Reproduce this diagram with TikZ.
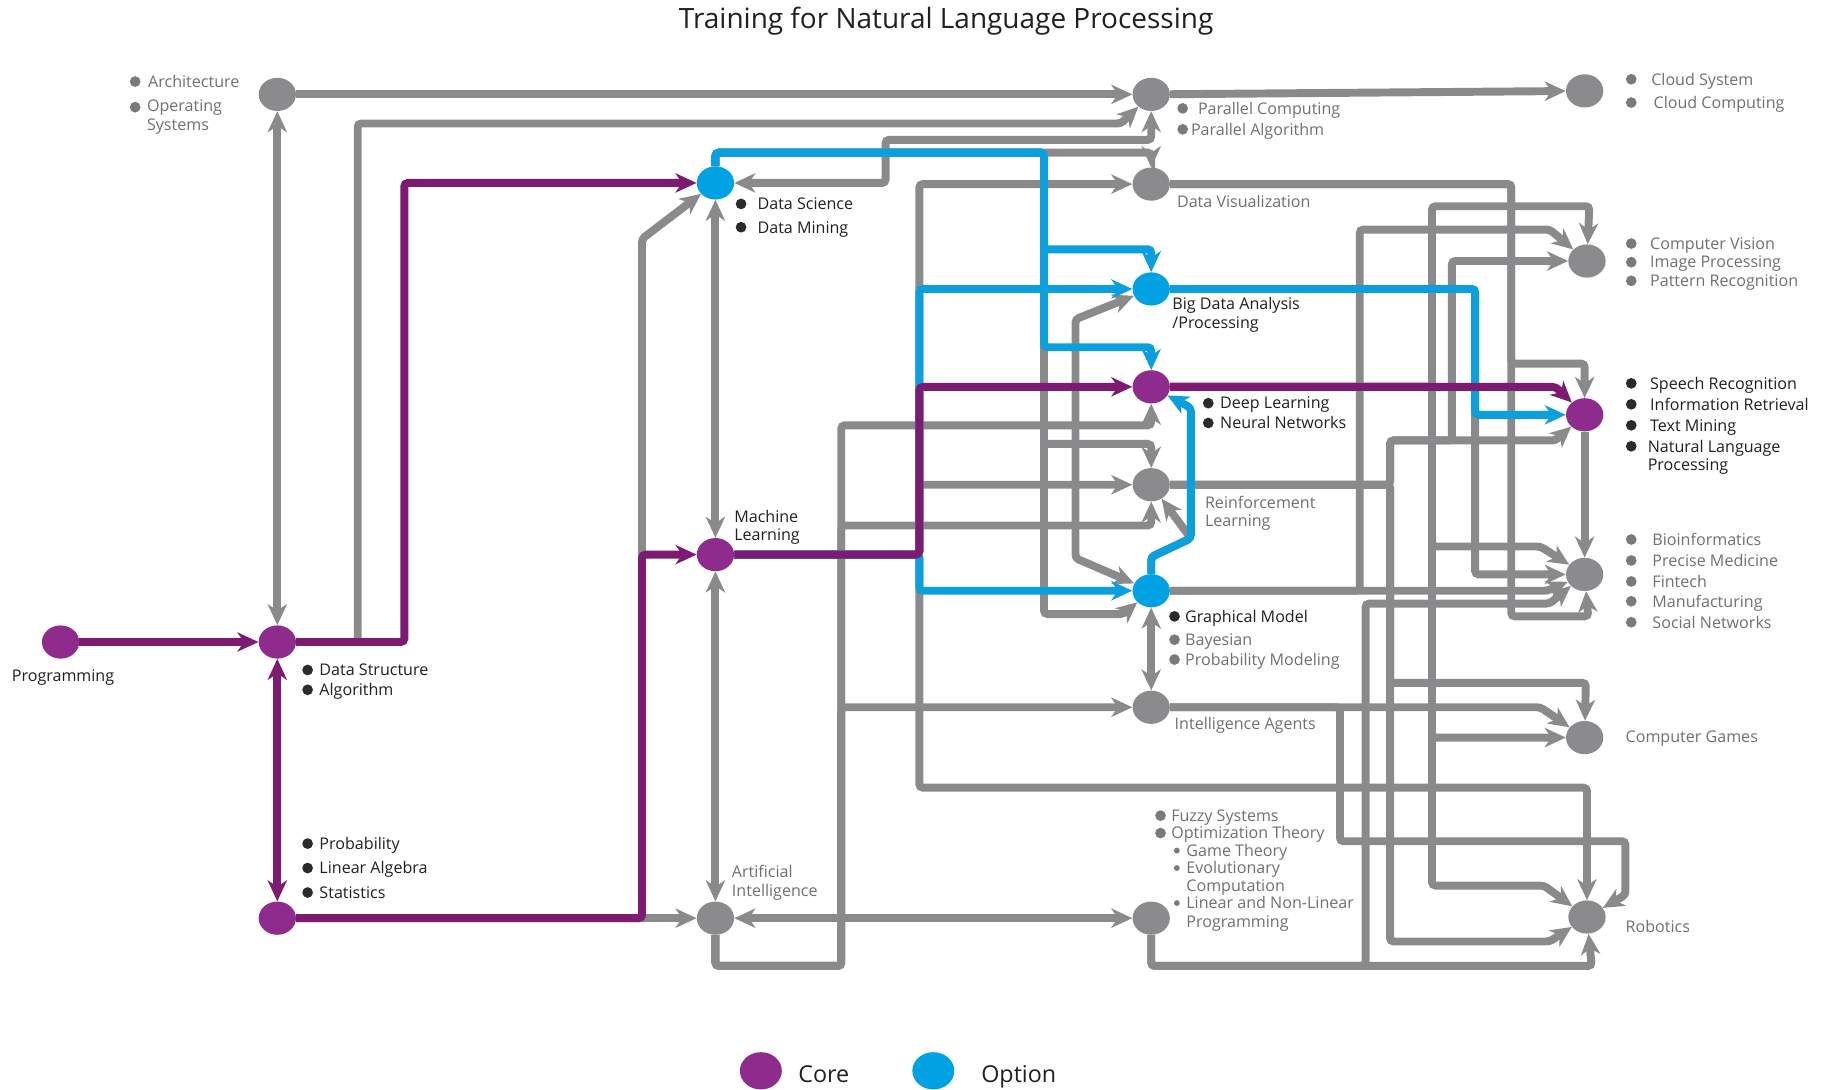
\documentclass[tikz,border=0pt]{standalone}
\usepackage{fontspec}
\setmainfont{Open Sans}
\usetikzlibrary{arrows.meta,shapes.geometric}
\definecolor{corepurple}{HTML}{8E2B8D}
\definecolor{corewire}{HTML}{7D1A72}
\definecolor{optblue}{HTML}{00A2E3}
\definecolor{optwire}{HTML}{0BA0DD}
\definecolor{restgray}{HTML}{8B8B8D}
\definecolor{wiregray}{HTML}{8A8A8C}
\definecolor{inkdark}{HTML}{231F20}
\definecolor{inkgray}{HTML}{707072}
\definecolor{dotdark}{HTML}{2B2B2B}
\definecolor{dotgray}{HTML}{7A7A7C}
\newcommand\labfont{\fontsize{13.8}{16}\selectfont}
\tikzset{
  >={Stealth[length=18pt,width=16.5pt,inset=5.5pt]},
  topic/.style={ellipse, minimum width=32pt, minimum height=28.5pt, inner sep=0pt},
  corenode/.style={topic, fill=corepurple},
  optnode/.style={topic, fill=optblue},
  restnode/.style={topic, fill=restgray},
  wire/.style={line width=6.8pt, rounded corners=3pt},
  graywire/.style={wire, draw=wiregray},
  bluewire/.style={wire, draw=optwire},
  purpwire/.style={wire, draw=corewire},
  darktext/.style={anchor=west, inner sep=0pt, text=inkdark, font=\labfont,
    text height=10pt, text depth=0pt},
  graytext/.style={darktext, text=inkgray},
  legendtext/.style={anchor=west, inner sep=0pt, text=inkdark,
    font=\fontsize{20}{24}\selectfont, text height=14pt, text depth=0pt}
}

\begin{document}
\begin{tikzpicture}[x=1pt,y=-1pt]
\useasboundingbox (0,0) rectangle (1568,935);
\node[font=\fontsize{24}{28}\selectfont, text=inkdark] (title) at (812,18.5) {Training for Natural Language Processing};

% topic nodes, four columns
\node[corenode] (prog) at (52,551) {};
\node[restnode] (arch) at (238,81) {};
\node[corenode] (ds) at (238,551) {};
\node[corenode] (prob) at (238,788) {};
\node[optnode] (datasci) at (614,157) {};
\node[corenode] (ml) at (614,476) {};
\node[restnode] (ai) at (614,788) {};
\node[restnode] (par) at (988,81) {};
\node[restnode] (viz) at (988,158) {};
\node[optnode] (bigd) at (988,248) {};
\node[corenode] (deep) at (988,332) {};
\node[restnode] (reinf) at (988,416) {};
\node[optnode] (graph) at (988,507) {};
\node[restnode] (agent) at (988,607) {};
\node[restnode] (opt) at (988,788) {};
\node[restnode] (cloud) at (1360,78) {};
\node[restnode] (cv) at (1362,224) {};
\node[corenode] (nlp) at (1360,356) {};
\node[restnode] (bio) at (1360,493) {};
\node[restnode] (games) at (1360,633) {};
\node[restnode] (robot) at (1362,787) {};

% gray links
\draw[graywire,<->] (arch) -- (ds);
\draw[graywire,->] (arch) -- (par);
\draw[graywire,->] (par) -- (cloud);
\draw[graywire,->] (ds) -- (307,551) -- (307,106) -- (962,106) -- (par);
\draw[graywire,<->] (datasci) -- (760,157) -- (760,120) -- (988,120) -- (par);
\draw[graywire,->] (datasci) -- (614,131) -- (988,131) -- (viz);
\draw[graywire,->] (ml) -- (789,476) -- (789,158) -- (viz);
\draw[graywire,->] (ml) -- (789,476) -- (789,676) -- (1362,676) -- (robot);
\draw[graywire,->] (ml) -- (789,476) -- (789,416) -- (reinf);
\draw[graywire,->] (prob) -- (ai);
\draw[graywire,->] (prob) -- (551,788) -- (551,205) -- (datasci);
\draw[graywire,<->] (datasci) -- (ml);
\draw[graywire,<->] (ml) -- (ai);
\draw[graywire,<->] (ai) -- (opt);
% AI loop
\draw[graywire,->] (ai) -- (614,829) -- (722,829) -- (722,365) -- (988,365) -- (deep);
\draw[graywire,->] (ai) -- (614,829) -- (722,829) -- (722,451) -- (988,451) -- (reinf);
\draw[graywire,->] (ai) -- (614,829) -- (722,829) -- (722,607) -- (agent);
% data science trunk
\draw[graywire,->] (datasci) -- (614,131) -- (896,131) -- (896,527) -- (964,527) -- (graph);
\draw[graywire,->] (datasci) -- (614,131) -- (896,131) -- (896,381) -- (988,381) -- (reinf);
\draw[graywire,<->] (bigd) -- (923,274) -- (923,479) -- (graph);
\draw[graywire,->] (graph) -- (988,478) -- (1022,462) -- (reinf);
\draw[graywire,<->] (graph) -- (agent);
\draw[graywire,->] (agent) -- (1322,607) -- (games);
\draw[graywire,->] (agent) -- (1150,607) -- (1150,722) -- (1395,722) -- (1395,768) -- (robot);
\draw[graywire,->] (opt) -- (988,829) -- (1366,829) -- (robot);
\draw[graywire,->] (opt) -- (988,829) -- (1172,829) -- (1172,518) -- (1330,518) -- (bio);
\draw[graywire,->] (graph) -- (1328,507) -- (bio);
\draw[graywire,->] (graph) -- (1167,507) -- (1167,197) -- (1330,197) -- (cv);
% reinforcement trunk
\draw[graywire,->] (reinf) -- (1193,416) -- (1193,378) -- (1335,378) -- (nlp);
\draw[graywire,->] (reinf) -- (1193,416) -- (1193,378) -- (1246,378) -- (1246,224) -- (cv);
\draw[graywire,->] (reinf) -- (1193,416) -- (1193,586) -- (1361,586) -- (games);
\draw[graywire,->] (reinf) -- (1193,416) -- (1193,808) -- (1330,808) -- (robot);
% deep learning trunk
\draw[graywire,->] (deep) -- (1229,332) -- (1229,177) -- (1364,177) -- (cv);
\draw[graywire,->] (deep) -- (1229,332) -- (1229,469) -- (1322,469) -- (bio);
\draw[graywire,->] (deep) -- (1229,332) -- (1229,633) -- (games);
\draw[graywire,->] (deep) -- (1229,332) -- (1229,760) -- (1325,760) -- (robot);
\draw[graywire,->] (bigd) -- (1266,248) -- (1266,493) -- (bio);
\draw[graywire,->] (viz) -- (1297,158) -- (1297,312) -- (1360,312) -- (nlp);
\draw[graywire,->] (viz) -- (1297,158) -- (1297,529) -- (1363,529) -- (bio);
\draw[graywire,->] (nlp) -- (bio);

% option links
\draw[bluewire,->] (datasci) -- (614,131) -- (896,131) -- (896,214) -- (988,214) -- (bigd);
\draw[bluewire,->] (datasci) -- (614,131) -- (896,131) -- (896,298) -- (988,298) -- (deep);
\draw[bluewire,->] (ml) -- (789,476) -- (789,248) -- (bigd);
\draw[bluewire,->] (ml) -- (789,476) -- (789,507) -- (graph);
\draw[bluewire,->] (bigd) -- (1266,248) -- (1266,356) -- (nlp);
\draw[bluewire,->] (graph) -- (988,478) -- (1022,462) -- (1022,350) -- (deep);

% core links
\draw[purpwire,->] (prog) -- (ds);
\draw[purpwire,<->] (ds) -- (prob);
\draw[purpwire,->] (ds) -- (347,551) -- (347,157) -- (datasci);
\draw[purpwire,->] (prob) -- (551,788) -- (551,476) -- (ml);
\draw[purpwire,->] (ml) -- (789,476) -- (789,332) -- (deep);
\draw[purpwire,->] (deep) -- (1335,332) -- (nlp);

% labels, left part
\fill[dotgray] (116,70) circle (4.6pt);
\fill[dotgray] (116,92) circle (4.6pt);
\node[graytext] (archa) at (127,70) {Architecture};
\node[graytext] (archb) at (126,91) {Operating};
\node[graytext] (archc) at (126,107) {Systems};
\node[darktext] (progt) at (10,580) {Programming};
\foreach \yy/\tx [count=\k] in {575/Data Structure,592/Algorithm}{
  \fill[dotdark] (264,\yy) circle (4.6pt);
  \node[darktext] (dst\k) at (274,\yy) {\tx};}
\foreach \yy/\tx [count=\k] in {724/Probability,745/Linear Algebra,766/Statistics}{
  \fill[dotdark] (264,\yy) circle (4.6pt);
  \node[darktext] (probt\k) at (274,\yy) {\tx};}
\foreach \yy/\tx [count=\k] in {175/Data Science,195/Data Mining}{
  \fill[dotdark] (636,\yy) circle (4.6pt);
  \node[darktext] (dsct\k) at (650,\yy) {\tx};}
\node[darktext] (mla) at (630,443) {Machine};
\node[darktext] (mlb) at (630,459) {Learning};
\node[graytext] (aia) at (628,748) {Artificial};
\node[graytext] (aib) at (628,764) {Intelligence};

% labels, middle column
\fill[dotgray] (1015,93) circle (4.6pt);
\fill[dotgray] (1015,111) circle (4.6pt);
\node[graytext] (para) at (1028,93) {Parallel Computing};
\node[graytext] (parb) at (1022,111) {Parallel Algorithm};
\node[graytext] (vizt) at (1010,173) {Data Visualization};
\node[darktext] (bigda) at (1006,261) {Big Data Analysis};
\node[darktext] (bigdb) at (1006,277) {/Processing};
\foreach \yy/\tx [count=\k] in {346/Deep Learning,363/Neural Networks}{
  \fill[dotdark] (1037,\yy) circle (4.6pt);
  \node[darktext] (deept\k) at (1047,\yy) {\tx};}
\node[graytext] (reinfa) at (1034,431) {Reinforcement};
\node[graytext] (reinfb) at (1034,447) {Learning};
\fill[dotdark] (1008,529) circle (4.6pt);
\node[darktext] (grapha) at (1017,529) {Graphical Model};
\foreach \yy/\tx [count=\k] in {549/Bayesian,566/Probability Modeling}{
  \fill[dotgray] (1008,\yy) circle (4.6pt);
  \node[graytext] (graphb\k) at (1017,\yy) {\tx};}
\node[graytext] (agentt) at (1008,621) {Intelligence Agents};
\foreach \yy/\tx [count=\k] in {700/Fuzzy Systems,715/Optimization Theory}{
  \fill[dotgray] (996,\yy) circle (4.6pt);
  \node[graytext] (opta\k) at (1005,\yy) {\tx};}
\foreach \yy in {730,745,775} \fill[dotgray] (1010,\yy) circle (2.5pt);
\foreach \yy/\tx [count=\k] in {730/Game Theory,745/Evolutionary,760/Computation,775/Linear and Non-Linear,791/Programming}
  \node[graytext] (optb\k) at (1018,\yy) {\tx};

% labels, right column
\fill[dotgray] (1400,68) circle (4.6pt);
\fill[dotgray] (1400,88) circle (4.6pt);
\node[graytext] (clouda) at (1417,68) {Cloud System};
\node[graytext] (cloudb) at (1419,88) {Cloud Computing};
\foreach \yy/\tx [count=\k] in {209/Computer Vision,225/Image Processing,241/Pattern Recognition}{
  \fill[dotgray] (1400,\yy) circle (4.6pt);
  \node[graytext] (cvt\k) at (1416,\yy) {\tx};}
\foreach \yy/\tx [count=\k] in {329/Speech Recognition,347/Information Retrieval,365/Text Mining}{
  \fill[dotdark] (1400,\yy) circle (4.6pt);
  \node[darktext] (nlpt\k) at (1416,\yy) {\tx};}
\fill[dotdark] (1400,383) circle (4.6pt);
\node[darktext] (nlpt4) at (1414,383) {Natural Language};
\node[darktext] (nlpt5) at (1414,399) {Processing};
\foreach \yy/\tx [count=\k] in {463/Bioinformatics,481/Precise Medicine,499/Fintech,516/Manufacturing,534/Social Networks}{
  \fill[dotgray] (1400,\yy) circle (4.6pt);
  \node[graytext] (biot\k) at (1418,\yy) {\tx};}
\node[graytext] (gamest) at (1395,632) {Computer Games};
\node[graytext] (robott) at (1395,795) {Robotics};

% legend
\node[corenode, minimum width=36pt, minimum height=32pt] (legcore) at (653,919) {};
\node[legendtext] (legcoret) at (685,922) {Core};
\node[optnode, minimum width=36pt, minimum height=32pt] (legopt) at (801,919) {};
\node[legendtext] (legoptt) at (842,922) {Option};
\end{tikzpicture}
\end{document}
